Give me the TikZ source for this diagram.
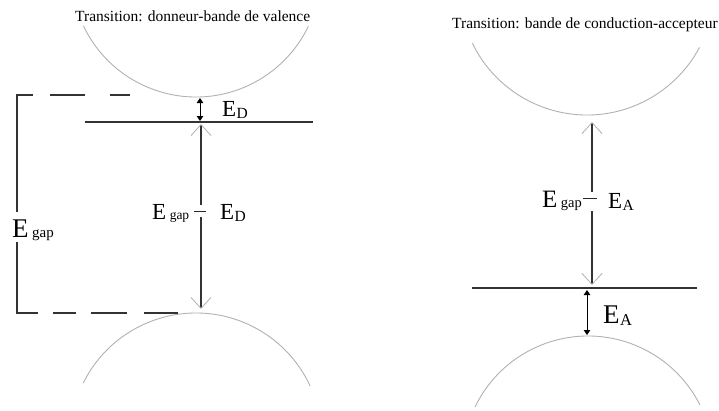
\documentclass[tikz,border=0pt]{standalone}
\usepackage{fontspec}
\setmainfont{Liberation Serif}
\usetikzlibrary{arrows.meta}
\newcommand{\mylab}[5]{{\fontsize{#1}{#1}\selectfont E}\hspace{#3}\raisebox{-#4}{\fontsize{#2}{#2}\selectfont #5}}
\begin{document}
\begin{tikzpicture}[x=1pt,y=-1pt,
  band/.style={draw=black!30, line width=0.9pt},
  lvl/.style={draw=black!80, line width=1.2pt},
  vline/.style={draw=black!80, line width=1.2pt},
  minusbar/.style={draw=black!85, line width=0.9pt},
  boxline/.style={draw=black!80, line width=1.2pt},
  gaptip/.style={-{Straight Barb[length=11pt,width=20pt,line width=0.8pt,color=black!30]}},
  small/.style={{Triangle[length=5pt,width=6.5pt]}-{Triangle[length=5pt,width=6.5pt]}, draw=black, line width=1pt},
  lbl/.style={inner sep=0pt, anchor=base west},
  ttl/.style={inner sep=0pt, anchor=base west, font=\fontsize{15.5}{16}\selectfont}]
\useasboundingbox (0,0) rectangle (719,410);
\fill[white] (0,0) rectangle (719,410);

% ---------- left panel ----------
\node[ttl] (t1) at (75,21) {Transition: donneur-bande de valence};
\draw[band] ([shift={(154.6:124.6)}]196,-27.6) arc[start angle=154.6, end angle=25.6, radius=124.6];
\draw[band] ([shift={(206.3:125.8)}]196,438.8) arc[start angle=206.3, end angle=335.2, radius=125.8];

\coordinate (cbL) at (200,98);
\coordinate (dL) at (200,121);
\draw[lvl] (85,122) -- (313,122);
\draw[small] (cbL) -- (dL);
\node[lbl] (ED1) at (222,116) {\mylab{23}{15.5}{0.3pt}{2pt}{D}};

% transition arrow E_gap - E_D
\coordinate (gL1) at (201,124);
\coordinate (gL2) at (201,205);
\coordinate (gL3) at (201,217);
\coordinate (gL4) at (201,309);
\draw[vline,gaptip] (gL2) -- (gL1);
\draw[vline,gaptip] (gL3) -- (gL4);
\node[lbl] (EgL) at (152,219) {\mylab{23}{13.5}{3.5pt}{0.5pt}{gap}};
\coordinate (mL1) at (194,211);
\coordinate (mL2) at (206,211);
\draw[minusbar] (mL1) -- (mL2);
\node[lbl] (ED2) at (220,219) {\mylab{23}{15.5}{0.3pt}{2pt}{D}};

% dashed box E_gap
\coordinate (bx1) at (17,95);
\coordinate (bx2) at (17,212);
\coordinate (bx3) at (17,242);
\coordinate (bx4) at (17,313);
\draw[boxline] (33,95) -- (bx1) -- (bx2);
\draw[boxline] (bx3) -- (bx4) -- (38,313);
\draw[boxline] (50,95) -- (85,95);
\draw[boxline] (110,95) -- (130,95);
\draw[boxline] (53,313) -- (76,313);
\draw[boxline] (91,313) -- (127,313);
\draw[boxline] (144,313) -- (178,313);
\node[lbl] (EgBox) at (12,237) {\mylab{27}{15}{3.5pt}{0.5pt}{gap}};

% ---------- right panel ----------
\node[ttl] (t2) at (452,28) {Transition: bande de conduction-accepteur};
\draw[band] ([shift={(154.1:127.4)}]587,-12.4) arc[start angle=154.1, end angle=28, radius=127.4];
\draw[band] ([shift={(205.7:125.4)}]588,461.4) arc[start angle=205.7, end angle=333.3, radius=125.4];

\coordinate (gR1) at (592,122);
\coordinate (gR2) at (592,192);
\coordinate (gR3) at (592,211);
\coordinate (gR4) at (592,285);
\draw[vline,gaptip] (gR2) -- (gR1);
\draw[vline,gaptip] (gR3) -- (gR4);
\node[lbl] (EgR) at (542,207) {\mylab{25}{14.5}{3.5pt}{0.5pt}{gap}};
\coordinate (mR1) at (583,198);
\coordinate (mR2) at (597,198);
\draw[minusbar] (mR1) -- (mR2);
\node[lbl] (EA1) at (608,208) {\mylab{23}{15.5}{0.3pt}{2pt}{A}};

\draw[lvl] (472,288) -- (697,288);
\coordinate (aR) at (587,290);
\coordinate (vbR) at (587,335);
\draw[small] (aR) -- (vbR);
\node[lbl] (EA2) at (603,323) {\mylab{27}{16.5}{0.3pt}{2pt}{A}};
\end{tikzpicture}
\end{document}
